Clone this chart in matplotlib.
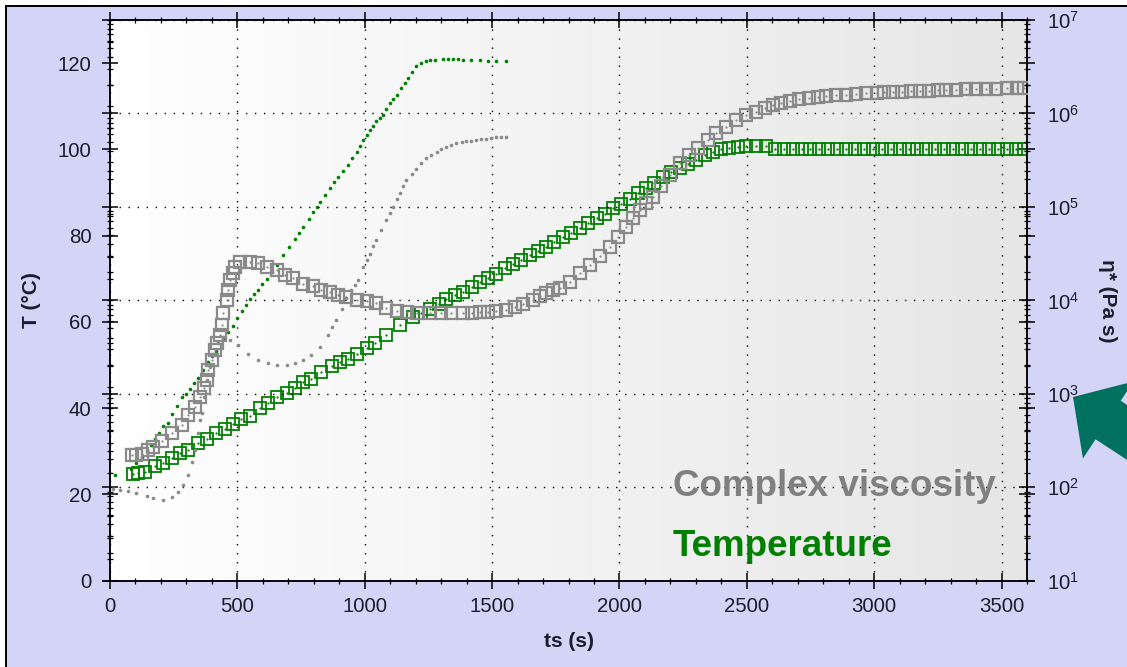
import matplotlib
matplotlib.use('Agg')
import matplotlib.pyplot as plt
import numpy as np
from matplotlib.patches import FancyArrow, Rectangle
from matplotlib.lines import Line2D
from matplotlib.colors import LinearSegmentedColormap
from matplotlib.ticker import MultipleLocator, LogLocator, NullFormatter

plt.rcParams['font.family'] = ['Liberation Sans', 'DejaVu Sans']

# slow ramp: temperature (open squares)
t_temp_slow = [92, 110, 137, 177, 209, 242, 275, 307, 347, 379, 418, 451, 484, 516, 549,
               588, 621, 654, 693, 726, 759, 791, 830, 870, 902, 935, 968, 1007, 1040, 1085,
               1138, 1190, 1222, 1255, 1290, 1321, 1355, 1386, 1420, 1452, 1485, 1517, 1550,
               1583, 1615, 1648, 1680, 1713, 1745, 1779, 1810, 1844, 1877, 1910, 1942, 1975,
               2008, 2040, 2072, 2105, 2137, 2170, 2203, 2236, 2270, 2302, 2335, 2367, 2400,
               2432, 2465, 2497, 2537, 2576, 2610, 2645, 2680, 2715, 2750, 2785, 2820, 2855,
               2890, 2925, 2960, 2995, 3030, 3065, 3100, 3135, 3170, 3205, 3240, 3275, 3310,
               3345, 3380, 3415, 3450, 3485, 3520, 3555, 3590]
temp_slow = [24.8, 24.9, 25.1, 26.5, 27.3, 28.5, 29.5, 30.3, 32.0, 32.8, 34.2, 35.1, 36.3, 37.4, 38.3,
             40.1, 41.3, 42.5, 43.6, 44.6, 46.0, 46.7, 48.4, 49.7, 50.6, 51.4, 52.5, 53.9, 55.2, 57.0,
             59.3, 61.1, 62.0, 63.0, 64.2, 65.4, 66.2, 66.9, 68.1, 69.2, 70.2, 71.2, 72.4,
             73.5, 74.4, 75.4, 76.4, 77.4, 78.5, 79.7, 80.7, 81.7, 82.9, 84.0, 85.1, 86.3,
             87.4, 88.6, 89.8, 91.0, 92.3, 93.7, 94.7, 95.6, 96.6, 97.6, 98.6, 99.5, 100.0,
             100.3, 100.6, 100.7, 100.7, 100.7, 100.2, 100.1, 100.1, 100.1, 100.1, 100.1, 100.1, 100.1,
             100.1, 100.1, 100.1, 100.1, 100.1, 100.1, 100.1, 100.1, 100.1, 100.1, 100.1, 100.1, 100.1,
             100.1, 100.1, 100.1, 100.1, 100.1, 100.1, 100.1, 100.1]

# slow ramp: complex viscosity, log10 of eta* in Pa s (open squares)
t_visc_slow = [85, 104, 124, 150, 170, 203, 242, 281, 307, 333, 353, 369, 379, 386, 399, 412, 421,
               432, 438, 445, 458, 464, 471, 484, 490, 510, 549, 582, 615, 654, 687, 719, 758,
               798, 830, 863, 896, 928, 968, 1007, 1046, 1085, 1125, 1165, 1205, 1255, 1300,
               1340, 1386, 1420, 1452, 1485, 1517, 1556, 1590, 1620, 1661, 1690, 1713, 1740,
               1765, 1805, 1844, 1883, 1922, 1962, 1994, 2027, 2053, 2079, 2105, 2131, 2164,
               2197, 2236, 2275, 2308, 2347, 2380, 2419, 2458, 2497, 2537, 2570, 2602, 2635,
               2668, 2705, 2746, 2780, 2812, 2850, 2890, 2930, 2969, 3010, 3040, 3073, 3110,
               3145, 3178, 3215, 3250, 3282, 3320, 3360, 3400, 3440, 3480, 3520, 3560, 3590]
visc_slow_log = [2.35, 2.35, 2.36, 2.40, 2.43, 2.49, 2.58, 2.67, 2.77, 2.86, 2.97, 3.06, 3.15, 3.25, 3.36, 3.47, 3.54,
                 3.63, 3.74, 3.86, 4.00, 4.11, 4.22, 4.29, 4.36, 4.41, 4.41, 4.40, 4.36, 4.32, 4.27, 4.24, 4.18,
                 4.15, 4.11, 4.09, 4.06, 4.04, 4.00, 3.99, 3.97, 3.92, 3.89, 3.87, 3.86, 3.86, 3.86,
                 3.86, 3.86, 3.86, 3.87, 3.88, 3.89, 3.90, 3.93, 3.96, 4.00, 4.05, 4.08, 4.11,
                 4.13, 4.20, 4.29, 4.38, 4.47, 4.57, 4.68, 4.79, 4.88, 4.97, 5.04, 5.11, 5.22,
                 5.34, 5.47, 5.56, 5.63, 5.72, 5.79, 5.86, 5.93, 5.98, 6.02, 6.06, 6.09, 6.11,
                 6.13, 6.15, 6.16, 6.18, 6.19, 6.20, 6.20, 6.21, 6.22, 6.22, 6.23, 6.23, 6.23,
                 6.24, 6.24, 6.24, 6.25, 6.25, 6.25, 6.26, 6.26, 6.26, 6.26, 6.27, 6.27, 6.27]

# fast ramp: temperature (small dots)
t_temp_fast = [20, 83, 104, 124, 144, 160, 176, 192, 209, 229, 245, 262, 282, 298, 314, 330, 347,
               366, 386, 402, 418, 445, 465, 484, 500, 517, 533, 549, 565, 582, 598, 615, 635,
               654, 680, 703, 726, 742, 759, 780, 798, 811, 824, 843, 863, 880, 896, 915, 935,
               950, 968, 981, 994, 1007, 1020, 1033, 1046, 1059, 1072, 1085, 1098, 1112, 1125,
               1144, 1157, 1170, 1186, 1203, 1222, 1242, 1258, 1275, 1308, 1327, 1346, 1366,
               1386, 1418, 1452, 1484, 1517, 1553]
temp_fast = [24.6, 25.9, 27.3, 28.7, 30.0, 31.4, 32.8, 34.3, 35.9, 36.6, 38.6, 40.5, 42.5, 43.4, 44.4, 45.8, 47.1,
             48.9, 50.6, 52.0, 53.3, 56.0, 57.6, 59.1, 60.9, 62.6, 64.0, 65.4, 66.4, 67.3, 68.7, 70.0, 71.6,
             73.1, 75.4, 77.3, 79.3, 80.6, 82.0, 83.8, 85.5, 86.7, 87.9, 89.4, 91.0, 92.4, 93.7, 95.0, 96.4,
             97.9, 99.5, 100.8, 102.2, 103.3, 104.5, 105.5, 106.5, 107.3, 108.0, 109.4, 110.8, 111.7, 112.7,
             114.3, 115.5, 116.6, 118.0, 119.3, 120.1, 120.5, 120.7, 120.8, 121.0, 121.0, 121.0, 120.9,
             120.8, 120.7, 120.7, 120.6, 120.6, 120.6]

# fast ramp: complex viscosity, log10 of eta* in Pa s (small dots)
t_visc_fast = [13, 39, 72, 104, 144, 170, 209, 242, 268, 288, 307, 321, 333, 347, 353, 360, 369,
               379, 392, 405, 425, 445, 471, 503, 543, 582, 621, 654, 693, 726, 759, 791, 824,
               856, 872, 889, 909, 928, 948, 962, 974, 994, 1007, 1020, 1033, 1046, 1065, 1085,
               1098, 1111, 1125, 1138, 1151, 1164, 1184, 1203, 1222, 1242, 1262, 1282, 1301,
               1321, 1340, 1360, 1380, 1399, 1418, 1438, 1458, 1478, 1497, 1517, 1535, 1553]
visc_fast_log = [1.98, 1.97, 1.96, 1.94, 1.91, 1.88, 1.86, 1.90, 1.95, 2.02, 2.13, 2.27, 2.40, 2.58, 2.72, 2.79, 2.97,
                 3.15, 3.29, 3.43, 3.54, 3.61, 3.58, 3.52, 3.43, 3.36, 3.33, 3.31, 3.31, 3.33, 3.36, 3.42, 3.50,
                 3.63, 3.71, 3.79, 3.91, 4.02, 4.11, 4.16, 4.22, 4.36, 4.43, 4.50, 4.58, 4.65, 4.75, 4.86,
                 4.93, 5.00, 5.08, 5.15, 5.22, 5.29, 5.35, 5.41, 5.47, 5.52, 5.56, 5.59, 5.62,
                 5.64, 5.66, 5.68, 5.69, 5.70, 5.71, 5.72, 5.73, 5.73, 5.74, 5.75, 5.75, 5.75]

GREEN = '#008000'
GREY = '#8a8a8a'
TICK_COL = '#1c1c2c'

W, H = 1127, 667
fig = plt.figure(figsize=(W / 100, H / 100), dpi=100, facecolor='white')

# lavender panel, framed on the top and left
fig.add_artist(Rectangle((6 / W, 0), 1, (H - 6) / H, transform=fig.transFigure,
                         facecolor='#d4d4f6', edgecolor='none', zorder=0))
fig.add_artist(Line2D([5.5 / W, 5.5 / W], [0, (H - 5.5) / H], color='black', lw=1.4,
                      transform=fig.transFigure))
fig.add_artist(Line2D([5.5 / W, 1], [(H - 5.5) / H, (H - 5.5) / H], color='black', lw=1.4,
                      transform=fig.transFigure))

x0, x1, y0, y1 = 110, 1027, 20, 580.7
ax = fig.add_axes([x0 / W, (H - y1) / H, (x1 - x0) / W, (y1 - y0) / H])

# white-to-grey shading behind the data
shade = LinearSegmentedColormap.from_list('shade', ['#ffffff', '#e6e6e6'])
ax.imshow(np.linspace(0, 1, 256).reshape(1, -1), extent=[0, 1, 0, 1], transform=ax.transAxes,
          cmap=shade, aspect='auto', zorder=0)

ax.plot(t_temp_fast, temp_fast, ls='none', marker='o', ms=2.6, mew=0, color=GREEN, zorder=3)
ax.plot(t_temp_slow, temp_slow, ls='none', marker='s', ms=8, mfc='none', mec=GREEN, mew=1.3, zorder=3)
ax.plot(t_temp_slow, temp_slow, ls='none', marker='o', ms=1.6, mew=0, color=GREEN, zorder=3)

ax.set_xlim(0, 3600)
ax.set_ylim(0, 130)
ax.xaxis.set_major_locator(MultipleLocator(500))
ax.xaxis.set_minor_locator(MultipleLocator(100))
ax.yaxis.set_major_locator(MultipleLocator(20))
ax.yaxis.set_minor_locator(MultipleLocator(5))
ax.grid(True, axis='x', which='major', color='black', lw=1.0, ls=(0, (1, 5.5)))

ax2 = ax.twinx()
ax2.set_yscale('log')
ax2.plot(t_visc_fast, np.power(10.0, visc_fast_log), ls='none', marker='o', ms=2.6, mew=0, color=GREY, zorder=3)
ax2.plot(t_visc_slow, np.power(10.0, visc_slow_log), ls='none', marker='s', ms=8.5, mfc='none',
         mec=GREY, mew=1.6, zorder=3)
ax2.plot(t_visc_slow, np.power(10.0, visc_slow_log), ls='none', marker='o', ms=1.6, mew=0, color=GREY, zorder=3)
ax2.set_ylim(10, 1e7)
ax2.yaxis.set_major_locator(LogLocator(base=10, numticks=10))
ax2.yaxis.set_minor_locator(LogLocator(base=10, subs=np.arange(2, 10), numticks=20))
ax2.yaxis.set_minor_formatter(NullFormatter())
ax2.grid(True, axis='y', which='major', color='black', lw=1.0, ls=(0, (1, 5.5)))

for a in (ax, ax2):
    for s in a.spines.values():
        s.set_linewidth(1.1)
    a.tick_params(which='both', direction='inout', colors='black', labelcolor=TICK_COL, labelsize=14.7)
    a.tick_params(which='major', length=11, width=1.1)
    a.tick_params(which='minor', length=5, width=0.9)

ax.tick_params(axis='x', which='both', top=True, pad=6)
ax.tick_params(axis='y', which='both', left=True, right=True, labelright=False, pad=8)
ax2.tick_params(axis='y', which='both', left=True, right=True, labelleft=False, pad=9)

ax.set_xlabel('ts (s)', fontsize=15, fontweight='bold', color=TICK_COL)
ax.xaxis.set_label_coords(0.5, -0.109)
ax.xaxis.label.set_va('center')
ax.set_ylabel('T (°C)', fontsize=15, fontweight='bold', color=TICK_COL)
ax.yaxis.set_label_coords(-0.0854, 0.5)
ax.yaxis.label.set_va('center')
ax2.set_ylabel('η* (Pa s)', fontsize=15, fontweight='bold', color=TICK_COL, rotation=-90)
ax2.yaxis.set_label_coords(1.0878, 0.5)
ax2.yaxis.label.set_va('center')

fig.text(673 / W, (H - 496) / H, 'Complex viscosity', fontsize=26.5, fontweight='bold',
         color='#808080', va='baseline', zorder=5)
fig.text(673 / W, (H - 556) / H, 'Temperature', fontsize=26.5, fontweight='bold',
         color=GREEN, va='baseline', zorder=5)

# pointer to the right-hand axis
tip = np.array([1073, H - 397]) / 100
tail = tip + np.array([0.84, -0.55]) * 2.5
fig.add_artist(FancyArrow(tail[0], tail[1], tip[0] - tail[0], tip[1] - tail[1], width=0.46,
                          head_width=0.92, head_length=0.42, length_includes_head=True,
                          color='#00705f', lw=0, transform=fig.dpi_scale_trans))

fig.savefig('out.png', dpi=100)
